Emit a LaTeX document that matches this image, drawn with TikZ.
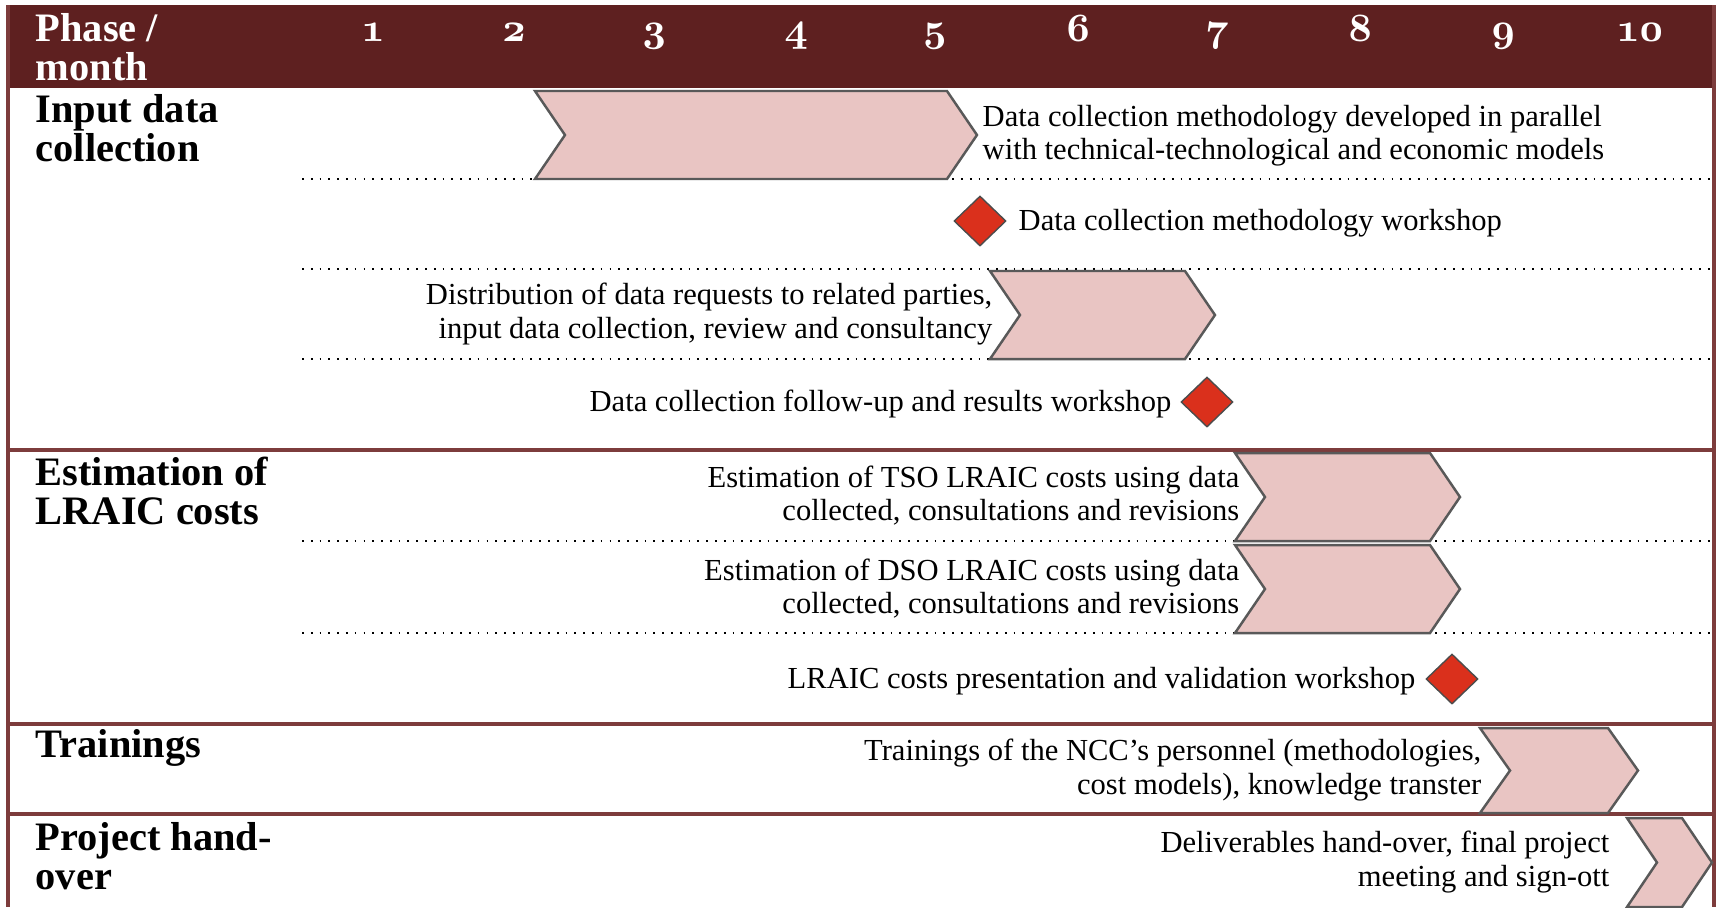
\documentclass[tikz,border=0pt]{standalone}
\usepackage{fontspec}
\setmainfont{Liberation Serif}
\newfontfamily\monthfont{lmroman10-bold}[Extension=.otf,Numbers=OldStyle]
\usetikzlibrary{shapes.geometric}

\definecolor{headred}{RGB}{94,32,32}
\definecolor{barpink}{RGB}{233,197,195}
\definecolor{milered}{RGB}{218,48,28}
\definecolor{linered}{RGB}{125,60,60}

% chevron bar: x left, x right, y top, y bottom
\newcommand{\chevbar}[4]{%
  \draw[bar] (#1,#3) -- ({#2-30},#3) -- (#2,{(#3+#4)/2}) -- ({#2-30},#4)
    -- (#1,#4) -- ({#1+30},{(#3+#4)/2}) -- cycle;}

\begin{document}
\begin{tikzpicture}[x=0.1mm,y=-0.1mm]

% Styles
\tikzset{
    phase/.style={font=\fontsize{11.5}{11.1}\selectfont\bfseries, align=left, anchor=west, inner sep=0pt},
    month/.style={text=white, font=\monthfont\fontsize{11.5}{12}\selectfont, anchor=base},
    task/.style={font=\fontsize{8.7}{9.4}\selectfont, align=right, inner sep=0pt},
    bar/.style={fill=barpink, draw=black!65, line width=0.7pt},
    milestone/.style={diamond, fill=milered, draw=black!70, line width=0.4pt,
        minimum width=5.2mm, minimum height=5mm, inner sep=0pt},
    sepline/.style={draw=linered, line width=0.9pt},
    rowline/.style={dotted, line width=0.5pt}
}

\useasboundingbox (0,0) rectangle (1721,907);

% Header
\fill[headred] (8,5) rectangle (1714,88);
\node[phase, text=white] (hdr) at (35,47) {Phase /\\month};
\foreach \m/\x in {1/373,2/514,3/655,4/797,5/935,6/1079,7/1218,8/1361,9/1504,10/1642}
    \node[month] (m\m) at (\x,41) {\m};

% Frame and separators
\draw[sepline] (8,5) -- (8,907);
\draw[sepline] (1714,5) -- (1714,907);
\foreach \y in {450,724,814}
    \draw[sepline] (8,\y) -- (1714,\y);
\foreach \y in {179,269,359,541,633}
    \draw[rowline] (302,\y) -- (1712,\y);

% Phases
\node[phase] (input) at (35,128) {Input data\\collection};
\node[phase] (lraic) at (35,491) {Estimation of\\LRAIC costs};
\node[phase] (train) at (35,748) {Trainings};
\node[phase] (hand) at (35,856) {Project hand-\\over};

% Bars
\chevbar{535}{977}{91}{179}
\chevbar{990}{1215}{271}{359}
\chevbar{1235}{1460}{453}{541}
\chevbar{1235}{1460}{545}{633}
\chevbar{1480}{1638}{728}{813}
\chevbar{1627}{1712}{818}{907}

% Milestones
\node[milestone] (ms1) at (980,221) {};
\node[milestone] (ms2) at (1207,402) {};
\node[milestone] (ms3) at (1452,679) {};

% Task texts
\node[task, anchor=west, align=left] (t1) at (982,136) {Data collection methodology developed in parallel\\with technical-technological and economic models};
\node[task, anchor=west] (t2) at (1018,223) {Data collection methodology workshop};
\node[task, anchor=east] (t3) at (993,314) {Distribution of data requests to related parties,\\input data collection, review and consultancy};
\node[task, anchor=east] (t4) at (1172,404) {Data collection follow-up and results workshop};
\node[task, anchor=east] (t5) at (1240,496) {Estimation of TSO LRAIC costs using data\\collected, consultations and revisions};
\node[task, anchor=east] (t6) at (1240,589) {Estimation of DSO LRAIC costs using data\\collected, consultations and revisions};
\node[task, anchor=east] (t7) at (1416,681) {LRAIC costs presentation and validation workshop};
\node[task, anchor=east] (t8) at (1482,770) {Trainings of the NCC's personnel (methodologies,\\cost models), knowledge transter};
\node[task, anchor=east] (t9) at (1610,862) {Deliverables hand-over, final project\\meeting and sign-ott};

\end{tikzpicture}
\end{document}
